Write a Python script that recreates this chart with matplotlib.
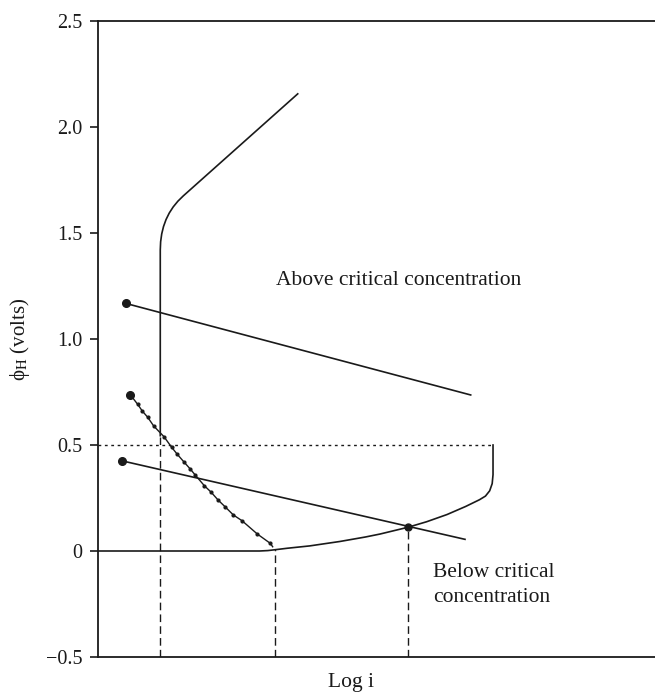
import matplotlib
matplotlib.use("Agg")
import matplotlib.pyplot as plt

plt.rcParams['font.family'] = ['Liberation Serif', 'DejaVu Serif']
plt.rcParams['mathtext.fontset'] = 'stix'

INK = '#1a1a1a'

# ---- data (x: arbitrary log i units, y: volts) ----
y_ticks = [2.5, 2.0, 1.5, 1.0, 0.5, 0.0, -0.5]
y_ticklabels = ['2.5', '2.0', '1.5', '1.0', '0.5', '0', '\u22120.5']

# polarisation curve, active/passive region (above critical concentration)
upper_x = [1.118, 1.118, 1.1245, 1.1438, 1.1761, 1.2213, 1.2793, 1.3503, 1.4342, 1.531, 3.597]
upper_y = [0.54, 1.420, 1.4588, 1.4956, 1.5304, 1.5633, 1.5942, 1.6231, 1.6500, 1.675, 2.159]

# polarisation curve (below critical concentration)
lower_x = [0.0, 2.90, 3.05, 3.18, 3.40, 3.80, 4.345, 4.80, 5.063, 5.566, 5.90, 6.266,
           6.60, 6.85, 6.956, 7.032, 7.077, 7.092, 7.092]
lower_y = [0.0, 0.0, 0.002, 0.006, 0.013, 0.024, 0.045, 0.066, 0.080, 0.112, 0.138, 0.172,
           0.210, 0.242, 0.259, 0.284, 0.318, 0.36, 0.50]

# cathodic (Tafel) lines
tafel_high_x = [0.497, 6.691]
tafel_high_y = [1.168, 0.736]
tafel_low_x = [0.436, 6.589]
tafel_low_y = [0.425, 0.055]

# dotted-marker cathodic curve
mid_x = [0.580, 0.712, 0.796, 0.892, 0.999, 1.185, 1.323, 1.424, 1.550, 1.652,
         1.747, 1.909, 2.029, 2.154, 2.280, 2.430, 2.585, 2.861, 3.094, 3.136]
mid_y = [0.737, 0.692, 0.660, 0.631, 0.590, 0.539, 0.489, 0.456, 0.418, 0.388,
         0.358, 0.308, 0.278, 0.241, 0.209, 0.170, 0.143, 0.080, 0.036, 0.020]

# intersection (corrosion) point
cross_x = [5.560]
cross_y = [0.112]

# dashed drop lines: x position and top y
drop_x = [1.118, 3.183, 5.560]
drop_top = [0.54, 0.008, 0.112]

crit_level = 0.5
crit_end = 7.092

fig = plt.figure(figsize=(6.55, 6.94), dpi=100)
ax = fig.add_axes([98/655, 1 - 657/694, 557/655, 636/694])
ax.set_xlim(0, 10)
ax.set_ylim(-0.5, 2.5)

lw = 1.2
ax.plot(upper_x, upper_y, color=INK, lw=lw, solid_capstyle='butt')
ax.plot(lower_x, lower_y, color=INK, lw=lw)
ax.plot(tafel_high_x, tafel_high_y, color=INK, lw=lw)
ax.plot(tafel_low_x, tafel_low_y, color=INK, lw=lw)
ax.plot(mid_x, mid_y, color=INK, lw=1.0)
ax.plot(mid_x[1:-1], mid_y[1:-1], ls='none', marker='o', ms=2.0, color=INK)

# start dots
ax.plot([tafel_high_x[0], tafel_low_x[0], mid_x[0]],
        [tafel_high_y[0], tafel_low_y[0], mid_y[0]],
        ls='none', marker='o', ms=5.5, color=INK)
ax.plot(cross_x, cross_y, ls='none', marker='o', ms=5, color=INK)

# critical potential dotted line
ax.plot([0, crit_end], [crit_level, crit_level], color=INK, lw=1.0,
        ls=(0, (2, 2.6)))

for xv, yt in zip(drop_x, drop_top):
    ax.plot([xv, xv], [-0.5, yt], color=INK, lw=1.0, ls=(0, (5.5, 3)))

fs_txt = 15.5
ax.text(5.40, 1.255, 'Above critical concentration', ha='center', va='baseline',
        fontsize=fs_txt, color=INK)
ax.text(6.02, -0.121, 'Below critical', ha='left', va='baseline',
        fontsize=fs_txt, color=INK)
ax.text(6.02, -0.239, 'concentration', ha='left', va='baseline',
        fontsize=fs_txt, color=INK)

# axes styling
for s in ['left', 'top', 'bottom']:
    ax.spines[s].set_linewidth(1.3)
    ax.spines[s].set_color(INK)
ax.spines['right'].set_visible(False)
ax.set_xticks([])
ax.set_yticks(y_ticks)
ax.set_yticklabels(y_ticklabels, fontsize=14.5, color=INK)
ax.tick_params(axis='y', direction='out', length=6, width=1.2, pad=5.5, colors=INK)

ax.set_xlabel('Log i', fontsize=15.5, color=INK)
ax.xaxis.set_label_coords(0.454, -0.025)
ax.set_ylabel('\u03d5$_{\\mathrm{H}}$ (volts)', fontsize=15, color=INK)
ax.yaxis.set_label_coords(-0.118, 0.5)

fig.savefig('out.png', dpi=100)
